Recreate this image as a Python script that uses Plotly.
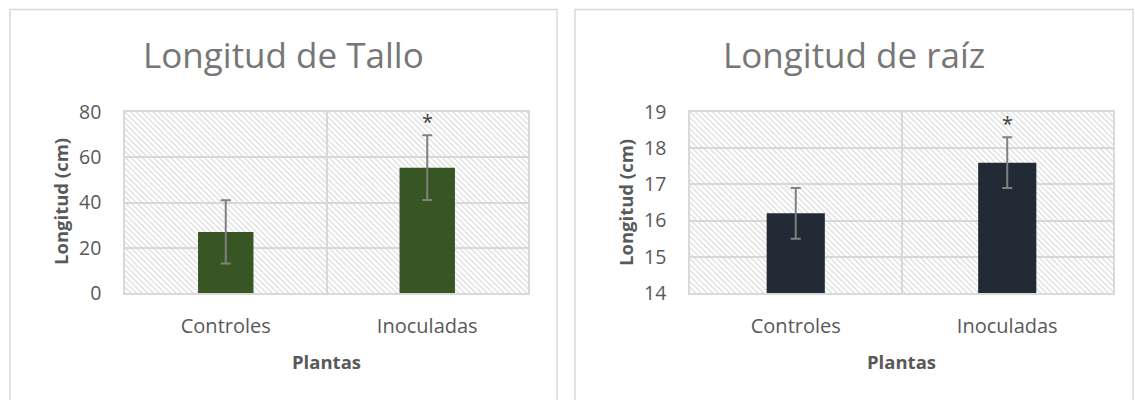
import plotly.graph_objects as go

categories = ["Controles", "Inoculadas"]

tallo_mean = [27.0, 55.4]
tallo_err = [14.0, 14.3]
tallo_range = [0, 80]
tallo_ticks = [0, 20, 40, 60, 80]

raiz_mean = [16.2, 17.6]
raiz_err = [0.7, 0.7]
raiz_range = [14, 19]
raiz_ticks = [14, 15, 16, 17, 18, 19]

signif = ["", "*"]

titles = ["Longitud de Tallo", "Longitud de raíz"]
y_title = "Longitud (cm)"
x_title = "Plantas"

bar_colors = ["#375623", "#222A35"]

W, H = 1135, 400
FONT = "Open Sans"

def px(x):
    return x / W

def py(y):
    return 1 - y / H

fig = go.Figure()

panels = [
    dict(mean=tallo_mean, err=tallo_err, rng=tallo_range, ticks=tallo_ticks,
         dom=(125, 528), box=(10, 557), ytitle_x=60, xa="x", ya="y"),
    dict(mean=raiz_mean, err=raiz_err, rng=raiz_range, ticks=raiz_ticks,
         dom=(690, 1113), box=(575, 1133), ytitle_x=625, xa="x2", ya="y2"),
]

for i, p in enumerate(panels):
    # hatched plot-area background
    fig.add_trace(go.Bar(
        x=categories, y=[p["rng"][1] - p["rng"][0]] * len(categories),
        base=[p["rng"][0]] * len(categories), width=1.0,
        marker=dict(color="rgba(0,0,0,0)", line=dict(width=0),
                    pattern=dict(shape="\\", size=4, solidity=0.25,
                                 fgcolor="#d2d2d2", fillmode="replace")),
        hoverinfo="skip", showlegend=False, xaxis=p["xa"], yaxis=p["ya"],
    ))
    fig.add_trace(go.Bar(
        x=categories, y=p["mean"], width=0.275,
        marker=dict(color=bar_colors[i], line=dict(width=0)),
        error_y=dict(type="data", array=p["err"], visible=True,
                     color="#808080", thickness=2, width=5),
        showlegend=False, xaxis=p["xa"], yaxis=p["ya"],
    ))
    # significance marks
    for c, m, e, s in zip(categories, p["mean"], p["err"], signif):
        if s:
            fig.add_annotation(x=c, y=m + e, xref=p["xa"], yref=p["ya"],
                               text=s, showarrow=False, yanchor="bottom",
                               yshift=-2, font=dict(family=FONT, size=20, color="#404040"))
    # titles
    cx = (p["box"][0] + p["box"][1]) / 2
    fig.add_annotation(x=px(cx), y=py(55), xref="paper", yref="paper",
                       text=titles[i], showarrow=False, xanchor="center", yanchor="middle",
                       font=dict(family=FONT, size=35, color="#767676"))
    fig.add_annotation(x=px(p["ytitle_x"]), y=py(202), xref="paper", yref="paper",
                       text="<b>" + y_title + "</b>", textangle=-90, showarrow=False,
                       xanchor="center", yanchor="middle",
                       font=dict(family=FONT, size=18.5, color="#595959"))
    fig.add_annotation(x=px((p["dom"][0] + p["dom"][1]) / 2), y=py(361), xref="paper", yref="paper",
                       text="<b>" + x_title + "</b>", showarrow=False,
                       xanchor="center", yanchor="middle",
                       font=dict(family=FONT, size=18.5, color="#595959"))
    # panel border (continues past the bottom edge of the picture)
    fig.add_shape(type="rect", xref="paper", yref="paper",
                  x0=px(p["box"][0]), x1=px(p["box"][1]), y0=py(420), y1=py(9.5),
                  line=dict(color="#d9d9d9", width=1.5), fillcolor="rgba(0,0,0,0)", layer="below")

axis_common = dict(showline=True, mirror=True, linecolor="#d9d9d9", linewidth=1.5,
                   showgrid=True, gridcolor="#d9d9d9", gridwidth=1.5, zeroline=False,
                   automargin=False)

for i, p in enumerate(panels):
    sfx = "" if i == 0 else str(i + 1)
    fig.layout["xaxis" + sfx] = dict(
        domain=[px(p["dom"][0]), px(p["dom"][1])], anchor="y" + sfx,
        type="category", range=[-0.5, 1.5], tickson="boundaries", ticks="",
        tickfont=dict(family=FONT, size=20, color="#595959"),
        ticklabelstandoff=14, fixedrange=True, **axis_common)
    fig.layout["yaxis" + sfx] = dict(
        domain=[py(293), py(112)], anchor="x" + sfx,
        range=p["rng"], tickvals=p["ticks"], ticks="",
        tickfont=dict(family=FONT, size=19.5, color="#595959"),
        ticklabelstandoff=18, fixedrange=True, **axis_common)

fig.update_layout(
    width=W, height=H, margin=dict(l=0, r=0, t=0, b=0, pad=0, autoexpand=False),
    paper_bgcolor="white", plot_bgcolor="white",
    barmode="overlay", showlegend=False,
)

fig.write_html("out.html")
